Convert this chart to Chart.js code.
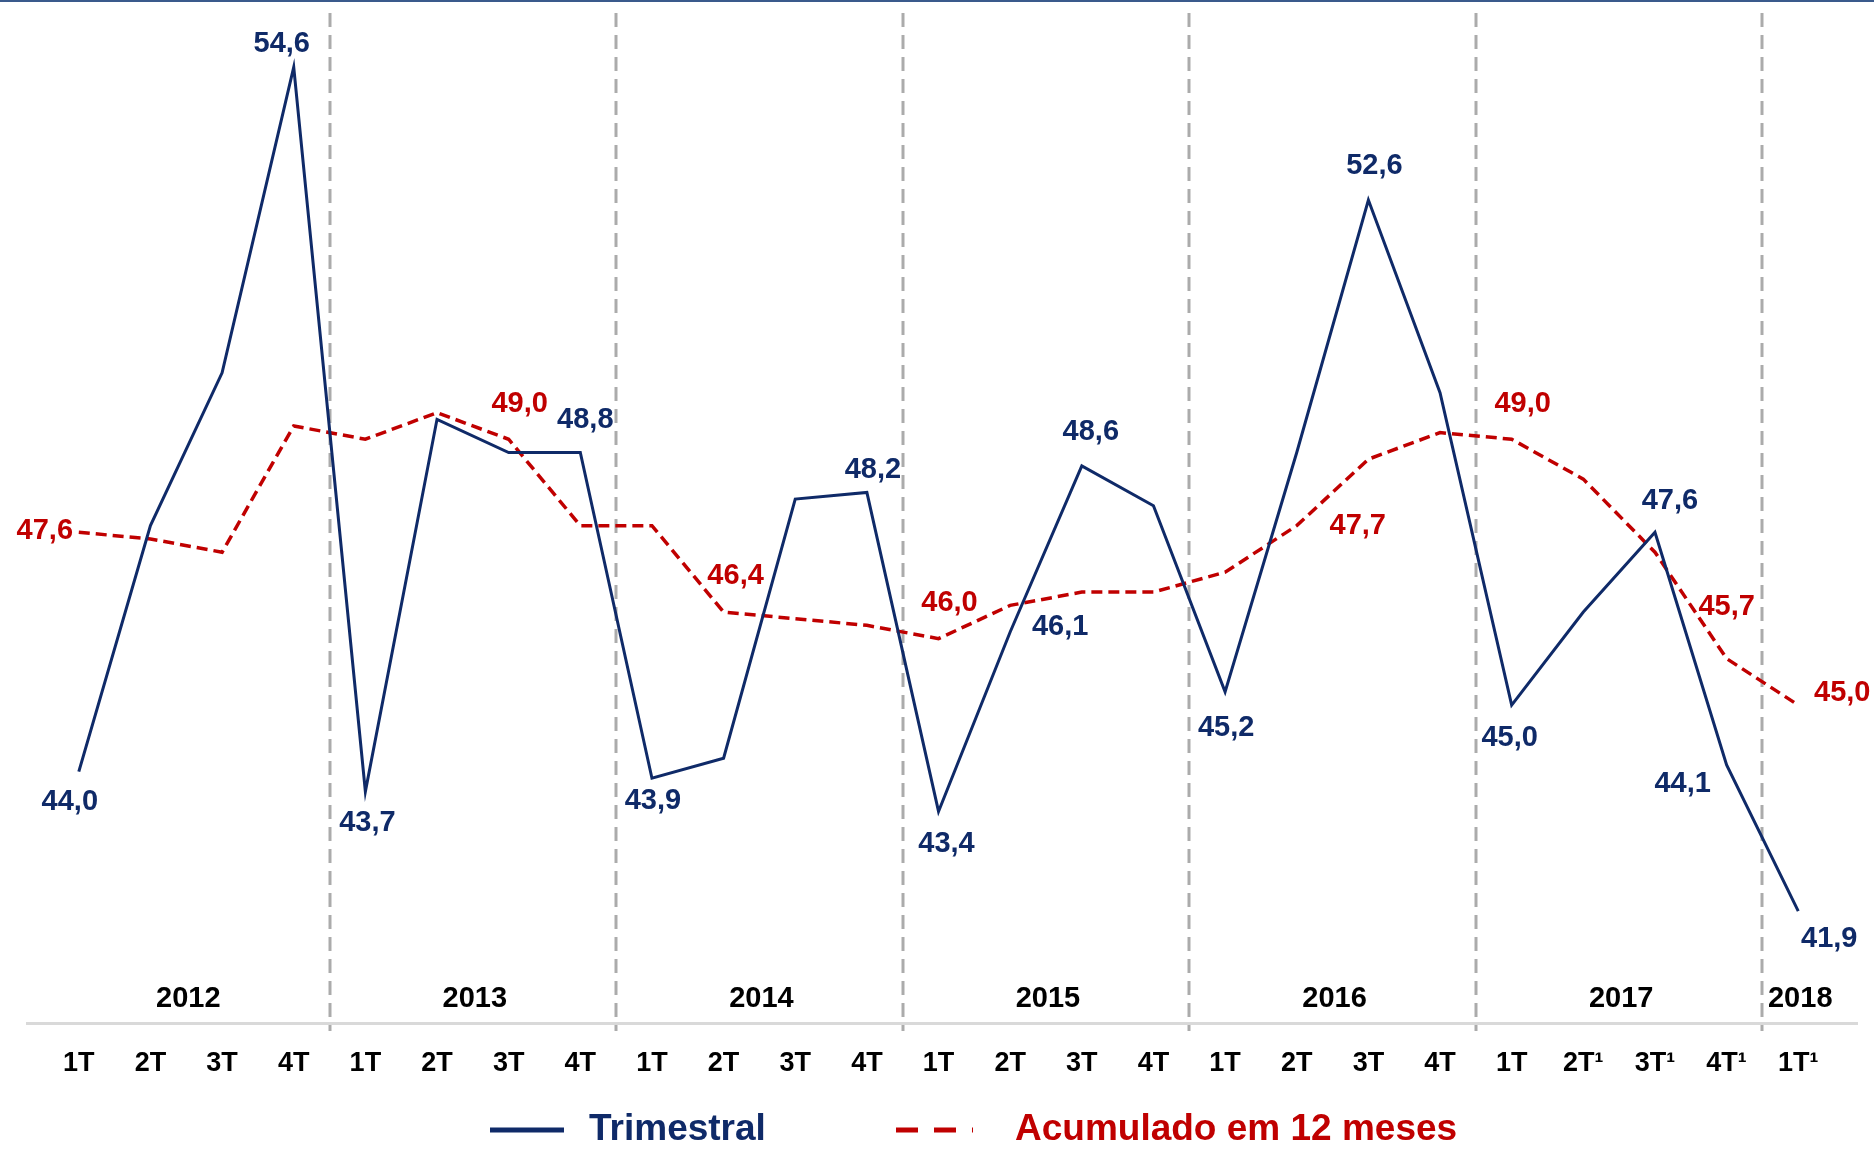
<!DOCTYPE html>
<html>
<head>
<meta charset="utf-8">
<script src="https://cdn.jsdelivr.net/npm/chart.js@4.4.0/dist/chart.umd.min.js"></script>
<style>
  html, body { margin: 0; padding: 0; background: #fff; }
  #wrap { width: 1874px; height: 1153px; position: relative; }
</style>
</head>
<body>
<div id="wrap"><canvas id="grafico"></canvas></div>
<script>
// eixo x: trimestres e anos
const trimestres = ['1T', '2T', '3T', '4T', '1T', '2T', '3T', '4T', '1T', '2T', '3T', '4T',
  '1T', '2T', '3T', '4T', '1T', '2T', '3T', '4T', '1T', '2T¹', '3T¹', '4T¹', '1T¹'];
const anos = ['2012', '2013', '2014', '2015', '2016', '2017', '2018'];
const trimestresPorAno = [4, 4, 4, 4, 4, 4, 1];

// séries
const trimestral = [44.0, 47.7, 50.0, 54.6, 43.7, 49.3, 48.8, 48.8, 43.9, 44.2, 48.1, 48.2,
  43.4, 46.1, 48.6, 48.0, 45.2, 48.8, 52.6, 49.7, 45.0, 46.4, 47.6, 44.1, 41.9];
const acumulado12m = [47.6, 47.5, 47.3, 49.2, 49.0, 49.4, 49.0, 47.7, 47.7, 46.4, 46.3, 46.2,
  46.0, 46.5, 46.7, 46.7, 47.0, 47.7, 48.7, 49.1, 49.0, 48.4, 47.3, 45.7, 45.0];

// pontos com rótulo de valor
const rotulosTrimestral = [0, 3, 4, 7, 8, 11, 12, 13, 14, 16, 18, 20, 22, 23, 24];
const rotulosAcumulado = [0, 6, 9, 12, 17, 20, 23, 24];

const AZUL = '#0F2A68';
const VERMELHO = '#C00000';
const FONTE = "'Liberation Sans', Arial, Helvetica, sans-serif";

// deslocamento (px) de cada rótulo em relação ao ponto
const deslocTrim = {0: [-9, 30], 3: [-12, -23], 4: [2, 31], 7: [5, -33], 8: [1, 23], 11: [6, -22],
  12: [8, 33], 13: [50, -5], 14: [9, -34], 16: [1, 36], 18: [6, -34], 20: [-2, 33],
  22: [15, -31], 23: [-44, 19], 24: [31, 28]};
const deslocAcum = {0: [-34, -1], 6: [11, -35], 9: [12, -36], 12: [11, -36], 17: [61, 0],
  20: [11, -35], 23: [0, -52], 24: [44, -12]};

function fmt(v) {
  return v.toFixed(1).replace('.', ',');
}

const extras = {
  id: 'extras',
  beforeDraw(chart) {
    const ctx = chart.ctx;
    ctx.save();
    ctx.fillStyle = '#fff';
    ctx.fillRect(0, 0, chart.width, chart.height);
    ctx.fillStyle = '#3A5A8C';
    ctx.fillRect(0, 0, chart.width, 2);
    ctx.restore();
  },
  beforeDatasetsDraw(chart) {
    const {ctx, chartArea, scales: {x}} = chart;
    ctx.save();
    ctx.strokeStyle = '#ABABAB';
    ctx.lineWidth = 3;
    ctx.setLineDash([14, 8]);
    let idx = 0;
    trimestresPorAno.forEach((n, k) => {
      idx += n;
      if (k === trimestresPorAno.length - 1) return;
      const px = Math.round(x.getPixelForValue(idx - 0.5));
      ctx.beginPath();
      ctx.moveTo(px, chartArea.top);
      ctx.lineTo(px, chartArea.bottom + 8);
      ctx.stroke();
    });
    ctx.restore();
  },
  afterDatasetsDraw(chart) {
    const {ctx, chartArea, scales: {x}} = chart;
    ctx.save();
    ctx.textAlign = 'center';
    ctx.textBaseline = 'middle';

    // anos
    ctx.fillStyle = '#000';
    ctx.font = 'bold 29px ' + FONTE;
    let inicio = 0;
    anos.forEach((ano, k) => {
      const n = trimestresPorAno[k];
      const cx = x.getPixelForValue(inicio + (n - 1) / 2);
      ctx.fillText(ano, cx + 2, chartArea.bottom - 24);
      inicio += n;
    });

    // rótulos de valores
    ctx.font = 'bold 29px ' + FONTE;
    const desenhaRotulos = (dsIndex, lista, desloc, cor) => {
      const meta = chart.getDatasetMeta(dsIndex);
      const valores = chart.data.datasets[dsIndex].data;
      ctx.fillStyle = cor;
      lista.forEach(i => {
        const pt = meta.data[i];
        const [dx, dy] = desloc[i];
        ctx.fillText(fmt(valores[i].y), pt.x + dx, pt.y + dy);
      });
    };
    desenhaRotulos(0, rotulosTrimestral, deslocTrim, AZUL);
    desenhaRotulos(1, rotulosAcumulado, deslocAcum, VERMELHO);

    // legenda
    const ly = 1130;
    ctx.textAlign = 'left';
    ctx.font = 'bold 37px ' + FONTE;
    const ds = chart.data.datasets;

    ctx.lineWidth = 5;
    ctx.strokeStyle = ds[0].borderColor;
    ctx.setLineDash([]);
    ctx.beginPath();
    ctx.moveTo(490, ly);
    ctx.lineTo(564, ly);
    ctx.stroke();
    ctx.fillStyle = ds[0].borderColor;
    ctx.fillText(ds[0].label, 589, ly);

    ctx.strokeStyle = ds[1].borderColor;
    ctx.setLineDash([22, 16]);
    ctx.beginPath();
    ctx.moveTo(896, ly);
    ctx.lineTo(973, ly);
    ctx.stroke();
    ctx.fillStyle = ds[1].borderColor;
    ctx.fillText(ds[1].label, 1015, ly);

    ctx.restore();
  }
};

const ctx = document.getElementById('grafico').getContext('2d');
new Chart(ctx, {
  type: 'line',
  data: {
    datasets: [{
      label: 'Trimestral',
      data: trimestral.map((v, i) => ({x: i, y: v})),
      borderColor: AZUL,
      borderWidth: 3,
      pointRadius: 0,
      tension: 0,
      fill: false
    }, {
      label: 'Acumulado em 12 meses',
      data: acumulado12m.map((v, i) => ({x: i, y: v})),
      borderColor: VERMELHO,
      borderWidth: 3.5,
      borderDash: [11, 6],
      pointRadius: 0,
      tension: 0,
      fill: false
    }]
  },
  options: {
    responsive: true,
    maintainAspectRatio: false,
    animation: false,
    layout: {
      padding: {left: 27, right: 17, top: 13, bottom: 56.6}
    },
    plugins: {
      legend: {display: false},
      tooltip: {enabled: false}
    },
    scales: {
      x: {
        type: 'linear',
        min: -0.723,
        max: 24.82,
        grid: {display: false},
        border: {display: true, color: '#D9D9D9', width: 3},
        afterBuildTicks: (axis) => {
          axis.ticks = trimestres.map((_, i) => ({value: i}));
        },
        ticks: {
          autoSkip: false,
          maxRotation: 0,
          padding: 16.5,
          color: '#000',
          font: {family: FONTE, size: 27, weight: 'bold', lineHeight: 1.2},
          callback: (v) => trimestres[v] ?? ''
        }
      },
      y: {
        display: false,
        min: 40.217,
        max: 55.413
      }
    }
  },
  plugins: [extras]
});
</script>
</body>
</html>
